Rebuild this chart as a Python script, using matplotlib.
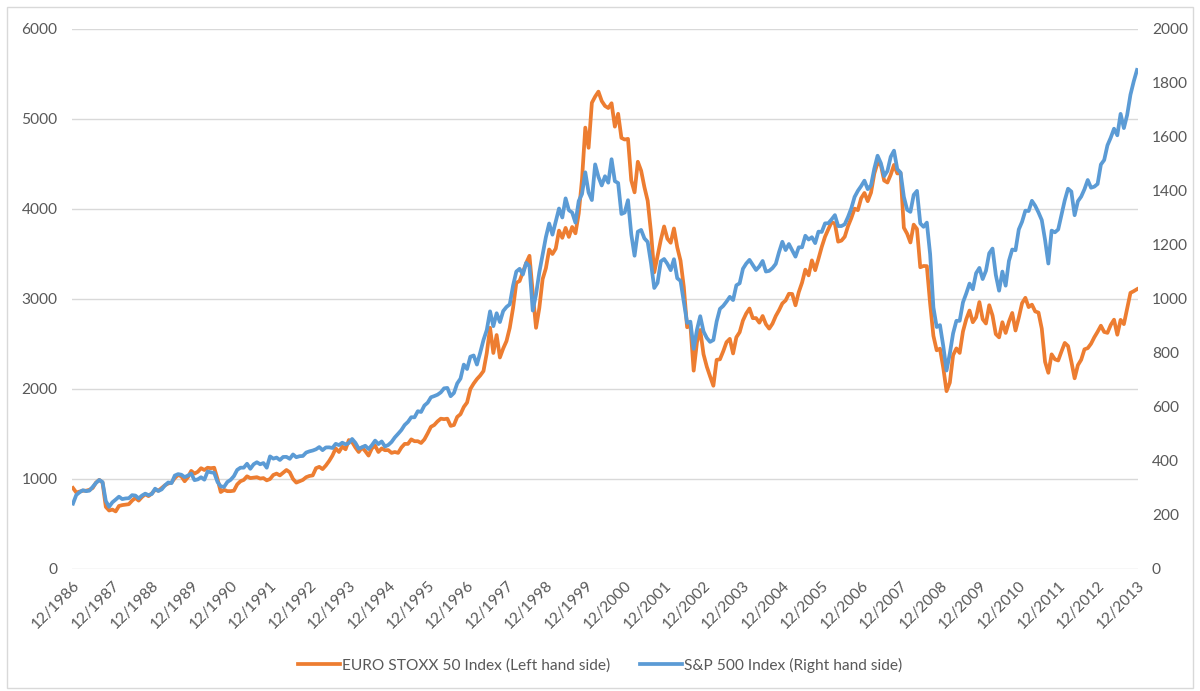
import matplotlib
matplotlib.use('Agg')
import matplotlib.pyplot as plt
import matplotlib.patches as patches
import pandas as pd

plt.rcParams['font.family'] = ['Lato', 'DejaVu Sans']

# monthly closes, 12/1986 .. 12/2013
euro_stoxx = [
    900,
    850, 860, 870, 870, 880, 900, 960, 990, 960, 690, 650, 660,            # 1987
    640, 700, 710, 715, 720, 760, 790, 760, 800, 830, 810, 840,            # 1988
    880, 870, 900, 930, 950, 960, 1010, 1045, 1030, 975, 1020, 1090,       # 1989
    1060, 1080, 1120, 1100, 1125, 1120, 1125, 1000, 855, 880, 865, 865,    # 1990
    870, 940, 975, 990, 1030, 1010, 1015, 1020, 1005, 1010, 985, 1000,     # 1991
    1045, 1060, 1040, 1070, 1100, 1075, 1000, 960, 975, 990, 1020, 1034,   # 1992
    1040, 1120, 1135, 1110, 1150, 1200, 1260, 1340, 1300, 1360, 1330, 1433,  # 1993
    1410, 1350, 1300, 1350, 1310, 1260, 1340, 1370, 1300, 1340, 1320, 1321,  # 1994
    1290, 1300, 1290, 1350, 1390, 1390, 1440, 1420, 1420, 1400, 1440, 1507,  # 1995
    1580, 1600, 1640, 1670, 1665, 1670, 1590, 1600, 1690, 1720, 1800, 1850,  # 1996
    2000, 2060, 2110, 2150, 2200, 2400, 2680, 2400, 2600, 2350, 2450, 2532,  # 1997
    2680, 2900, 3180, 3200, 3300, 3400, 3480, 3070, 2680, 2900, 3220, 3342,  # 1998
    3550, 3500, 3560, 3760, 3680, 3790, 3690, 3800, 3730, 3950, 4330, 4904,  # 1999
    4680, 5180, 5249, 5304, 5200, 5145, 5122, 5175, 4915, 5058, 4790, 4772,  # 2000
    4779, 4318, 4185, 4525, 4426, 4243, 4091, 3744, 3297, 3478, 3658, 3806,  # 2001
    3670, 3625, 3784, 3574, 3426, 3133, 2686, 2710, 2204, 2518, 2656, 2386,  # 2002
    2248, 2140, 2036, 2324, 2330, 2419, 2520, 2557, 2395, 2575, 2631, 2761,  # 2003
    2839, 2894, 2787, 2788, 2737, 2811, 2720, 2671, 2726, 2811, 2876, 2951,  # 2004
    2984, 3058, 3056, 2930, 3076, 3182, 3326, 3263, 3429, 3320, 3447, 3579,  # 2005
    3692, 3775, 3854, 3839, 3637, 3649, 3692, 3809, 3899, 4004, 3987, 4120,  # 2006
    4178, 4087, 4182, 4393, 4512, 4489, 4316, 4294, 4381, 4490, 4395, 4400,  # 2007
    3792, 3725, 3628, 3826, 3778, 3353, 3367, 3365, 2950, 2591, 2430, 2448,  # 2008
    2237, 1976, 2071, 2376, 2451, 2401, 2639, 2775, 2872, 2742, 2797, 2966,  # 2009
    2776, 2728, 2931, 2817, 2610, 2574, 2742, 2623, 2748, 2845, 2650, 2793,  # 2010
    2954, 3013, 2910, 2937, 2862, 2849, 2670, 2302, 2180, 2385, 2330, 2317,  # 2011
    2417, 2512, 2477, 2306, 2119, 2265, 2325, 2441, 2454, 2503, 2575, 2636,  # 2012
    2703, 2634, 2624, 2712, 2770, 2603, 2768, 2721, 2893, 3068, 3087, 3109,  # 2013
]

sp500 = [
    242.17,
    274.08, 284.20, 291.70, 288.36, 290.10, 304.00, 318.66, 329.80, 321.83, 251.79, 230.30, 247.08,
    257.07, 267.82, 258.89, 261.33, 262.16, 273.50, 272.02, 261.52, 271.91, 278.97, 273.70, 277.72,
    297.47, 288.86, 294.87, 309.64, 320.52, 317.98, 346.08, 351.45, 349.15, 340.36, 345.99, 353.40,
    329.08, 331.89, 339.94, 330.80, 361.23, 358.02, 356.15, 322.56, 306.05, 304.00, 322.22, 330.22,
    343.93, 367.07, 375.22, 375.34, 389.83, 371.16, 387.81, 395.43, 387.86, 392.46, 375.22, 417.09,
    408.79, 412.70, 403.69, 414.95, 415.35, 408.14, 424.21, 414.03, 417.80, 418.68, 431.35, 435.71,
    438.78, 443.38, 451.67, 440.19, 450.19, 450.53, 448.13, 463.56, 458.93, 467.83, 461.79, 466.45,
    481.61, 467.14, 445.77, 450.91, 456.50, 444.27, 458.26, 475.49, 462.69, 472.35, 453.69, 459.27,
    470.42, 487.39, 500.71, 514.71, 533.40, 544.75, 562.06, 561.88, 584.41, 581.50, 605.37, 615.93,
    636.02, 640.43, 645.50, 654.17, 669.12, 670.63, 639.95, 651.99, 687.31, 705.27, 757.02, 740.74,
    786.16, 790.82, 757.12, 801.34, 848.28, 885.14, 954.29, 899.47, 947.28, 914.62, 955.40, 970.43,
    980.28, 1049.34, 1101.75, 1111.75, 1090.82, 1133.84, 1120.67, 957.28, 1017.01, 1098.67, 1163.63, 1229.23,
    1279.64, 1238.33, 1286.37, 1335.18, 1301.84, 1372.71, 1328.72, 1320.41, 1282.71, 1362.93, 1388.91, 1469.25,
    1394.46, 1366.42, 1498.58, 1452.43, 1420.60, 1454.60, 1430.83, 1517.68, 1436.51, 1429.40, 1314.95, 1320.28,
    1366.01, 1239.94, 1160.33, 1249.46, 1255.82, 1224.42, 1211.23, 1133.58, 1040.94, 1059.78, 1139.45, 1148.08,
    1130.20, 1106.73, 1147.39, 1076.92, 1067.14, 989.82, 911.62, 916.07, 815.28, 885.76, 936.31, 879.82,
    855.70, 841.15, 848.18, 916.92, 963.59, 974.50, 990.31, 1008.01, 995.97, 1050.71, 1058.20, 1111.92,
    1131.13, 1144.94, 1126.21, 1107.30, 1120.68, 1140.84, 1101.72, 1104.24, 1114.58, 1130.20, 1173.82, 1211.92,
    1181.27, 1203.60, 1180.59, 1156.85, 1191.50, 1191.33, 1234.18, 1220.33, 1228.81, 1207.01, 1249.48, 1248.29,
    1280.08, 1280.66, 1294.83, 1310.61, 1270.09, 1270.20, 1276.66, 1303.82, 1335.85, 1377.94, 1400.63, 1418.30,
    1438.24, 1406.82, 1420.86, 1482.37, 1530.62, 1503.35, 1455.27, 1473.99, 1526.75, 1549.38, 1481.14, 1468.36,
    1378.55, 1330.63, 1322.70, 1385.59, 1400.38, 1280.00, 1267.38, 1282.83, 1166.36, 968.75, 896.24, 903.25,
    825.88, 735.09, 797.87, 872.81, 919.14, 919.32, 987.48, 1020.62, 1057.08, 1036.19, 1095.63, 1115.10,
    1073.87, 1104.49, 1169.43, 1186.69, 1089.41, 1030.71, 1101.60, 1049.33, 1141.20, 1183.26, 1180.55, 1257.64,
    1286.12, 1327.22, 1325.83, 1363.61, 1345.20, 1320.64, 1292.28, 1218.89, 1131.42, 1253.30, 1246.96, 1257.60,
    1312.41, 1365.68, 1408.47, 1397.91, 1310.33, 1362.16, 1379.32, 1406.58, 1440.67, 1412.16, 1416.18, 1426.19,
    1498.11, 1514.68, 1569.19, 1597.57, 1630.74, 1606.28, 1685.73, 1632.97, 1681.55, 1756.54, 1805.81, 1848.36,
]

dates = pd.date_range('1986-12-31', periods=len(sp500), freq='ME')
tick_labels = [d.strftime('%m/%Y') for d in dates[::12]]

orange = '#ED7D31'
blue = '#5B9BD5'
txt = '#595959'
fs = 11.2

fig = plt.figure(figsize=(12, 6.91), dpi=100)
ax = fig.add_axes([72/1200, 1 - 569/691, (1138 - 72)/1200, (569 - 29)/691])
ax2 = ax.twinx()

x = list(range(len(sp500)))
l1, = ax.plot(x, euro_stoxx, color=orange, lw=2.7, label='EURO STOXX 50 Index (Left hand side)')
l2, = ax2.plot(x, sp500, color=blue, lw=2.7, label='S&P 500 Index (Right hand side)')

ax.set_xlim(-0.3, len(sp500) - 0.7)
ax.set_ylim(0, 6000)
ax2.set_ylim(0, 2000)
ax.set_yticks(range(0, 6001, 1000))
ax2.set_yticks(range(0, 2001, 200))
ax.set_xticks(x[::12])
ax.set_xticklabels(tick_labels, rotation=45, ha='right', rotation_mode='anchor')

ax.grid(axis='y', color='#D9D9D9', lw=1)
ax.set_axisbelow(True)
for a in (ax, ax2):
    for s in a.spines.values():
        s.set_visible(False)
    a.tick_params(length=0, labelsize=fs, colors=txt)
ax.tick_params(axis='y', pad=10.5)
ax.tick_params(axis='x', pad=6.5)
ax2.tick_params(axis='y', pad=10)

fig.legend(handles=[l1, l2], loc='center', bbox_to_anchor=(0.5, 1 - 665/691), ncol=2,
           frameon=False, fontsize=fs, labelcolor=txt, handlelength=2.7,
           handletextpad=0.15, columnspacing=1.9)

fig.patches.append(patches.Rectangle((7/1200, 3/691), 1186/1200, 681/691, transform=fig.transFigure,
                                     fill=False, edgecolor='#D9D9D9', lw=1))

plt.savefig('out.png', dpi=100)
